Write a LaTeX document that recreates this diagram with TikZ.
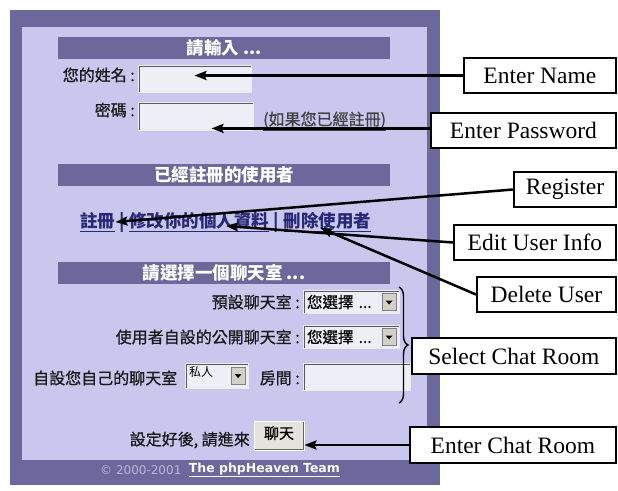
\documentclass[tikz,border=0pt]{standalone}
\usepackage{fontspec}
\usepackage{tikz}
\usetikzlibrary{calc, positioning, arrows.meta, decorations.pathreplacing}

\newfontfamily\cjk{Noto Sans CJK TC}
\newfontfamily\cjkmid[FakeBold=0.8]{Noto Sans CJK TC}
\newfontfamily\notefont{Liberation Serif}
\newfontfamily\webfont{DejaVu Sans}

\definecolor{pageDark}{RGB}{108,104,156}
\definecolor{pageLight}{RGB}{201,199,238}
\definecolor{fieldBg}{RGB}{238,238,246}
\definecolor{linkBlue}{RGB}{40,40,120}
\definecolor{btnGray}{RGB}{212,208,200}
\definecolor{copyGray}{RGB}{184,182,218}

\begin{document}
\begin{tikzpicture}[x=1pt, y=-1pt,
        bar/.style={fill=pageDark, minimum width=332, minimum height=22, inner sep=0pt, text=white, font=\cjk\bfseries\fontsize{17.5}{19}\selectfont},
        lbl/.style={inner sep=0pt, text=black!90, font=\cjkmid\fontsize{16}{18}\selectfont},
        link/.style={inner sep=0pt, text=linkBlue, font=\cjk\bfseries\fontsize{17.5}{19}\selectfont},
        field/.style={fill=fieldBg, draw=white!85!gray, line width=0.8, inner sep=0pt, path picture={\draw[line width=3, black!65] (path picture bounding box.south west) |- (path picture bounding box.north east);}},
        drop/.style={field, text width=88, inner xsep=4, inner ysep=0pt, minimum height=23, align=left, font=\cjkmid\fontsize{15.5}{17}\selectfont},
        dropbtn/.style={fill=btnGray, draw=gray, line width=0.6, minimum width=14, minimum height=17, inner sep=0pt},
        chatbtn/.style={fill=btnGray!60!white, draw=white, line width=0.8, minimum width=50, minimum height=29, inner sep=0pt, font=\cjkmid\fontsize{15}{17}\selectfont, path picture={\draw[line width=3, black!60] (path picture bounding box.south west) -| (path picture bounding box.north east);}},
        note/.style={draw, line width=1.8, fill=white, minimum height=35, inner sep=0pt, anchor=west, font=\notefont\fontsize{23.5}{26}\selectfont},
        arr/.style={-{Stealth[length=12pt, width=9pt, inset=2pt]}, line width=2.5}
    ]
    \useasboundingbox (0,0) rectangle (618,490);
    \fill[white] (0,0) rectangle (618,490);

    % page panels
    \fill[pageDark] (10,10) rectangle (440,485);
    \fill[pageLight] (22,27) rectangle (427,460);

    % ----- login part -----
    \node[bar] (inputBar) at (224,48) {請輸入 ...};
    \node[lbl, anchor=east] (nameLbl) at (135,75) {您的姓名 :};
    \node[field, minimum width=113, minimum height=27] (nameBox) at (194.5,78.5) {};
    \node[lbl, anchor=east] (pwLbl) at (135,110) {密碼 :};
    \node[field, minimum width=115, minimum height=28] (pwBox) at (195.5,116) {};
    \node[lbl, anchor=west, text=black!75] (pwHint) at (263,121) {\underline{(如果您已經註冊)}};

    % ----- registered users -----
    \node[bar] (userBar) at (224,174.5) {已經註冊的使用者};
    \node[link, anchor=west] (regLink) at (80,222) {\underline{註冊}};
    \node[link, right=4pt of regLink] (sepA) {|};
    \node[link, right=4pt of sepA] (editLink) {\underline{修改你的個人資料}};
    \node[link, right=4pt of editLink] (sepB) {|};
    \node[link, right=4pt of sepB] (delLink) {\underline{刪除使用者}};

    % ----- chat rooms -----
    \node[bar] (roomBar) at (224,272.5) {請選擇一個聊天室 ...};
    \node[lbl, anchor=east] (defLbl) at (300,302) {預設聊天室 :};
    \node[drop] (defDrop) at (351,302) {您選擇 ...};
    \node[lbl, anchor=east] (pubLbl) at (300,337) {使用者自設的公開聊天室 :};
    \node[drop] (pubDrop) at (351,337) {您選擇 ...};
    \node[lbl, anchor=west] (ownLbl) at (33,378) {自設您自己的聊天室};
    \node[drop, text width=55, minimum height=25, text depth=8pt, font=\cjk\fontsize{12}{14}\selectfont] (privDrop) at (216.5,375.5) {私人};
    \node[lbl, anchor=east] (roomLbl) at (300,378) {房間 :};
    \node[field, minimum width=107, minimum height=27] (roomBox) at (356.5,376.5) {};

    \foreach \dd in {defDrop, pubDrop, privDrop} {
        \node[dropbtn, anchor=east] (\dd-btn) at ([xshift=-3pt]\dd.east) {};
        \fill ($(\dd-btn.center)+(-3.5,-1.5)$) -- ++(7,0) -- ++(-3.5,4) -- cycle;
    }

    \node[lbl, anchor=east] (goLbl) at (250,440) {設定好後, 請進來};
    \node[chatbtn, text depth=6pt] (chatBtn) at (279,435.5) {聊天};

    % footer
    \node[inner sep=0pt, anchor=west, text=copyGray, font=\webfont\fontsize{12}{14}\selectfont] (copyTxt) at (100,470) {© 2000-2001};
    \node[inner sep=0pt, right=7pt of copyTxt, text=white!92!pageLight, font=\webfont\bfseries\fontsize{12.5}{14}\selectfont] (teamTxt) {\underline{The phpHeaven Team}};

    % ----- callouts -----
    \node[note, minimum width=152] (nameNote) at (463,75.5) {Enter Name};
    \node[note, minimum width=185] (pwNote) at (430,130.5) {Enter Password};
    \node[note, minimum width=102] (regNote) at (513,189.5) {Register};
    \node[note, minimum width=162] (editNote) at (453,242.5) {Edit User Info};
    \node[note, minimum width=139] (delNote) at (476,294.5) {Delete User};
    \node[note, minimum width=204, minimum height=36] (roomNote) at (411,356) {Select Chat Room};
    \node[note, minimum width=206, minimum height=36] (chatNote) at (409,445) {Enter Chat Room};

    \coordinate (pwTip) at ($(pwBox.south)+(16,-2)$);
    \coordinate (editTip) at ($(editLink.west)!0.69!(editLink.east)+(0,4)$);
    \coordinate (delTip) at ($(delLink.west)!0.42!(delLink.east)+(0,6)$);
    \coordinate (braceTop) at (399,287);
    \coordinate (braceBot) at (399,403);

    \draw[arr] (nameNote.west) -- (nameNote.west -| nameBox.center);
    \draw[arr] (pwNote.west |- pwTip) -- (pwTip);
    \draw[arr] (regNote.west) -- (regLink.east);
    \draw[arr] (editNote.west) -- (editTip);
    \draw[arr] (delNote.west) -- (delTip);
    \draw[arr] (chatNote.west) -- (chatNote.west -| chatBtn.east);

    \draw[decorate, decoration={brace, amplitude=9pt}, line width=1.4] (braceTop) -- (braceBot);

\end{tikzpicture}
\end{document}
